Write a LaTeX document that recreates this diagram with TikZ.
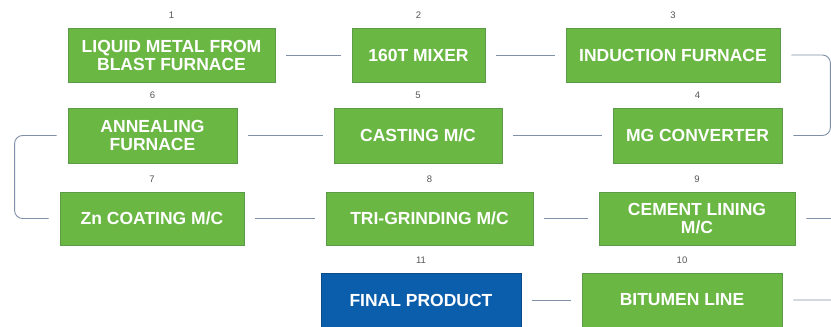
\documentclass[tikz,border=0pt]{standalone}
\usepackage{fontspec}
\setmainfont{Liberation Sans}
\definecolor{stepgreen}{HTML}{6AB744}
\definecolor{stepedge}{HTML}{5A9A48}
\definecolor{stepblue}{HTML}{0B5EAB}
\definecolor{linkgray}{HTML}{7F90A8}
\definecolor{numgray}{HTML}{555555}
\tikzset{
  stepbox/.style={draw=stepedge, fill=stepgreen, line width=0.8pt, text=white,
    font=\fontsize{17.5}{18}\selectfont\bfseries, align=center, inner sep=0pt,
    minimum height=54pt},
  finalbox/.style={stepbox, draw=stepblue!80!black, fill=stepblue},
  num/.style={text=numgray, font=\fontsize{9.5}{10}\selectfont, inner sep=0pt},
  link/.style={draw=linkgray, line width=0.9pt, shorten <=11pt, shorten >=11pt,
    rounded corners=8pt}
}
\begin{document}
\begin{tikzpicture}[x=1pt,y=-1pt]
\useasboundingbox (0,0) rectangle (831,327);

% first row
\node[stepbox, minimum width=207pt, label={[num,label distance=9pt]above:1}] (liquid) at (171.5,55) {LIQUID METAL FROM\\BLAST FURNACE};
\node[stepbox, minimum width=133pt, label={[num,label distance=9pt]above:2}] (mixer) at (418.5,55) {160T MIXER};
\node[stepbox, minimum width=214pt, label={[num,label distance=9pt]above:3}] (induction) at (673,55) {INDUCTION FURNACE};

% second row
\node[stepbox, minimum width=169pt, minimum height=55pt, label={[num,label distance=9pt]above:6}] (annealing) at (152.5,135.5) {ANNEALING\\FURNACE};
\node[stepbox, minimum width=168pt, minimum height=55pt, label={[num,label distance=9pt]above:5}] (casting) at (418,135.5) {CASTING M/C};
\node[stepbox, minimum width=169pt, minimum height=55pt, label={[num,label distance=9pt]above:4}] (converter) at (697.5,135.5) {MG CONVERTER};

% third row
\node[stepbox, minimum width=184pt, minimum height=53pt, label={[num,label distance=9pt]above:7}] (coating) at (152,218.5) {Zn COATING M/C};
\node[stepbox, minimum width=207pt, minimum height=53pt, label={[num,label distance=9pt]above:8}] (grinding) at (429.5,218.5) {TRI-GRINDING M/C};
\node[stepbox, minimum width=196pt, minimum height=53pt, label={[num,label distance=9pt]above:9}] (cement) at (697,218.5) {CEMENT LINING\\M/C};

% last row
\node[finalbox, minimum width=200pt, label={[num,label distance=9pt]above:11}] (final) at (421,300) {FINAL PRODUCT};
\node[stepbox, minimum width=200pt, label={[num,label distance=9pt]above:10}] (bitumen) at (682,300) {BITUMEN LINE};

\draw[link] (liquid) -- (mixer);
\draw[link] (mixer) -- (induction);
\draw[link] (induction.east) -- ++(50,0) |- (converter.east);
\draw[link] (converter) -- (casting);
\draw[link] (casting) -- (annealing);
\draw[link] (annealing.west) -- ++(-53,0) |- (coating.west);
\draw[link] (coating) -- (grinding);
\draw[link] (grinding) -- (cement);
\draw[link] (cement.east) -- ++(45,0) |- (bitumen.east);
\draw[link] (bitumen) -- (final);

\end{tikzpicture}
\end{document}
